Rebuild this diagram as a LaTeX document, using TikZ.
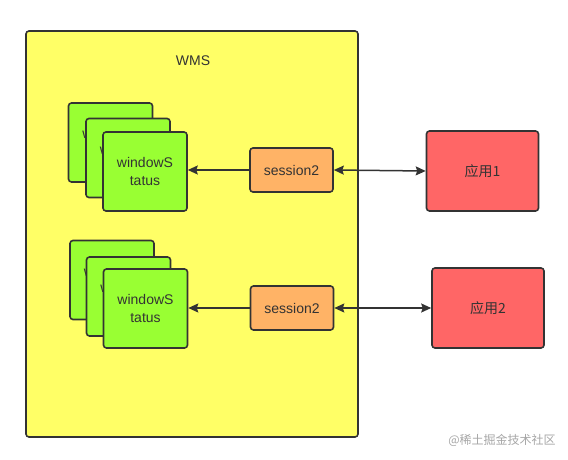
\documentclass[tikz,border=0pt]{standalone}
\usepackage{fontspec}
\setmainfont{Liberation Sans}
\newfontfamily\cjk{Noto Sans CJK SC}
\usetikzlibrary{arrows.meta}
\tikzset{>={Stealth[length=10pt,width=9pt,inset=1.5pt]}}
\definecolor{wmsyellow}{HTML}{FFFF66}
\definecolor{wingreen}{HTML}{99FF33}
\definecolor{sesorange}{HTML}{FFB366}
\definecolor{appred}{HTML}{FF6666}
\definecolor{edgegray}{HTML}{333333}

\begin{document}
\begin{tikzpicture}[x=1pt,y=-1pt,
    box/.style={draw=edgegray,line width=1.6pt,rounded corners=3pt,inner sep=0pt,
      align=center,text=edgegray,font=\fontsize{14}{18}\selectfont},
    winbox/.style={box,fill=wingreen,minimum width=84pt,minimum height=79pt},
    sesbox/.style={box,fill=sesorange,minimum width=83pt,minimum height=44pt},
    appbox/.style={box,fill=appred,minimum width=112pt,minimum height=80pt,font=\cjk\fontsize{14}{18}\selectfont},
    link/.style={draw=edgegray,line width=1.5pt}]
  \useasboundingbox (0,0) rectangle (568,460);
  \node[box,fill=wmsyellow,minimum width=332pt,minimum height=406pt] (wms) at (192,234) {};
  \node[text=edgegray,font=\fontsize{14}{18}\selectfont] (wmstitle) at (193,61) {WMS};
  % upper stack
  \node[winbox] (win1a) at (110.5,142.5) {windowS\\tatus};
  \node[winbox] (win1b) at (128,158) {windowS\\tatus};
  \node[winbox] (win1c) at (145,171.5) {windowS\\tatus};
  % lower stack
  \node[winbox] (win2a) at (112,280) {windowS\\tatus};
  \node[winbox] (win2b) at (128.5,296.5) {windowS\\tatus};
  \node[winbox] (win2c) at (145.5,308.5) {windowS\\tatus};
  \node[sesbox] (ses1) at (291.5,170) {session2};
  \node[sesbox] (ses2) at (292,308) {session2};
  \node[appbox] (app1) at (482.5,171) {应用1};
  \node[appbox] (app2) at (488,308) {应用2};
  \draw[link,->] (ses1.west) -- (ses1.west -| win1c.east);
  \draw[link,->] (ses2.west) -- (ses2.west -| win2c.east);
  \draw[link,<->] (ses1.east) -- (app1.west);
  \draw[link,<->] (ses2.east) -- (app2.west);
  \node[text=black!35,font=\cjk\fontsize{12}{14}\selectfont] (mark) at (502,440) {@稀土掘金技术社区};
\end{tikzpicture}
\end{document}
